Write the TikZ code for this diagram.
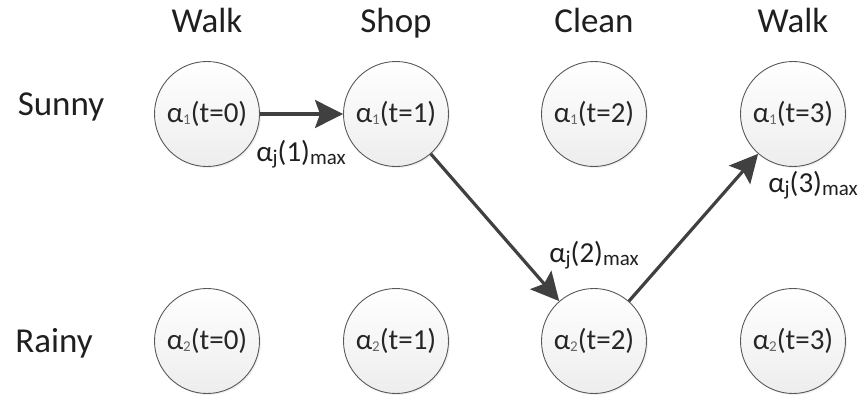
\documentclass[tikz,border=0pt]{standalone}
\usepackage{fontspec}
\setmainfont{Carlito}
\usetikzlibrary{arrows.meta,shadows}

% small lowered index used in the state labels
\newcommand{\lowidx}[1]{\raisebox{-0.05em}{\fontsize{15}{15}\selectfont\color{black!60}#1}}
% subscript for the max labels
\newcommand{\maxsub}[1]{\raisebox{-0.12em}{\fontsize{21}{21}\selectfont #1}}

\begin{document}
\begin{tikzpicture}[x=1pt,y=-1pt,
  state/.style={circle, draw=black!65, line width=0.9pt, minimum size=105pt, inner sep=0pt,
    top color=white, bottom color=black!7, shading angle=0,
    drop shadow={opacity=0.12, shadow xshift=1.5pt, shadow yshift=-1.5pt},
    font=\fontsize{29}{29}\selectfont, text=black!85},
  heading/.style={font=\fontsize{35}{35}\selectfont, text=black!88, inner sep=0pt, anchor=base},
  maxlabel/.style={font=\fontsize{29}{29}\selectfont, text=black!88, inner sep=0pt, anchor=base},
  path arrow/.style={draw=black!75, line width=3.2pt,
    -{Stealth[length=28pt, width=28pt, inset=5pt]}}
]
\useasboundingbox (0,0) rectangle (862,399);

% column headings
\node[heading] (h0) at (207,32) {Walk};
\node[heading] (h1) at (396,32) {Shop};
\node[heading] (h2) at (594,32) {Clean};
\node[heading] (h3) at (793,32) {Walk};

% row headings
\node[heading] (rs) at (61,115) {Sunny};
\node[heading] (rr) at (54,352) {Rainy};

% hidden states
\node[state] (s0) at (207,114) {α\lowidx{1}(t=0)};
\node[state] (s1) at (396,114) {α\lowidx{1}(t=1)};
\node[state] (s2) at (594,114) {α\lowidx{1}(t=2)};
\node[state] (s3) at (793,114) {α\lowidx{1}(t=3)};
\node[state] (r0) at (207,341) {α\lowidx{2}(t=0)};
\node[state] (r1) at (396,341) {α\lowidx{2}(t=1)};
\node[state] (r2) at (594,341) {α\lowidx{2}(t=2)};
\node[state] (r3) at (793,341) {α\lowidx{2}(t=3)};

% most likely path
\draw[path arrow] (s0) -- (s1);
\draw[path arrow] (s1) -- (r2);
\draw[path arrow] (r2) -- (s3);

% path labels
\node[maxlabel] (m1) at (301,161) {α\maxsub{j}(1)\maxsub{max}};
\node[maxlabel] (m2) at (594,262) {α\maxsub{j}(2)\maxsub{max}};
\node[maxlabel] (m3) at (813,192) {α\maxsub{j}(3)\maxsub{max}};
\end{tikzpicture}
\end{document}
